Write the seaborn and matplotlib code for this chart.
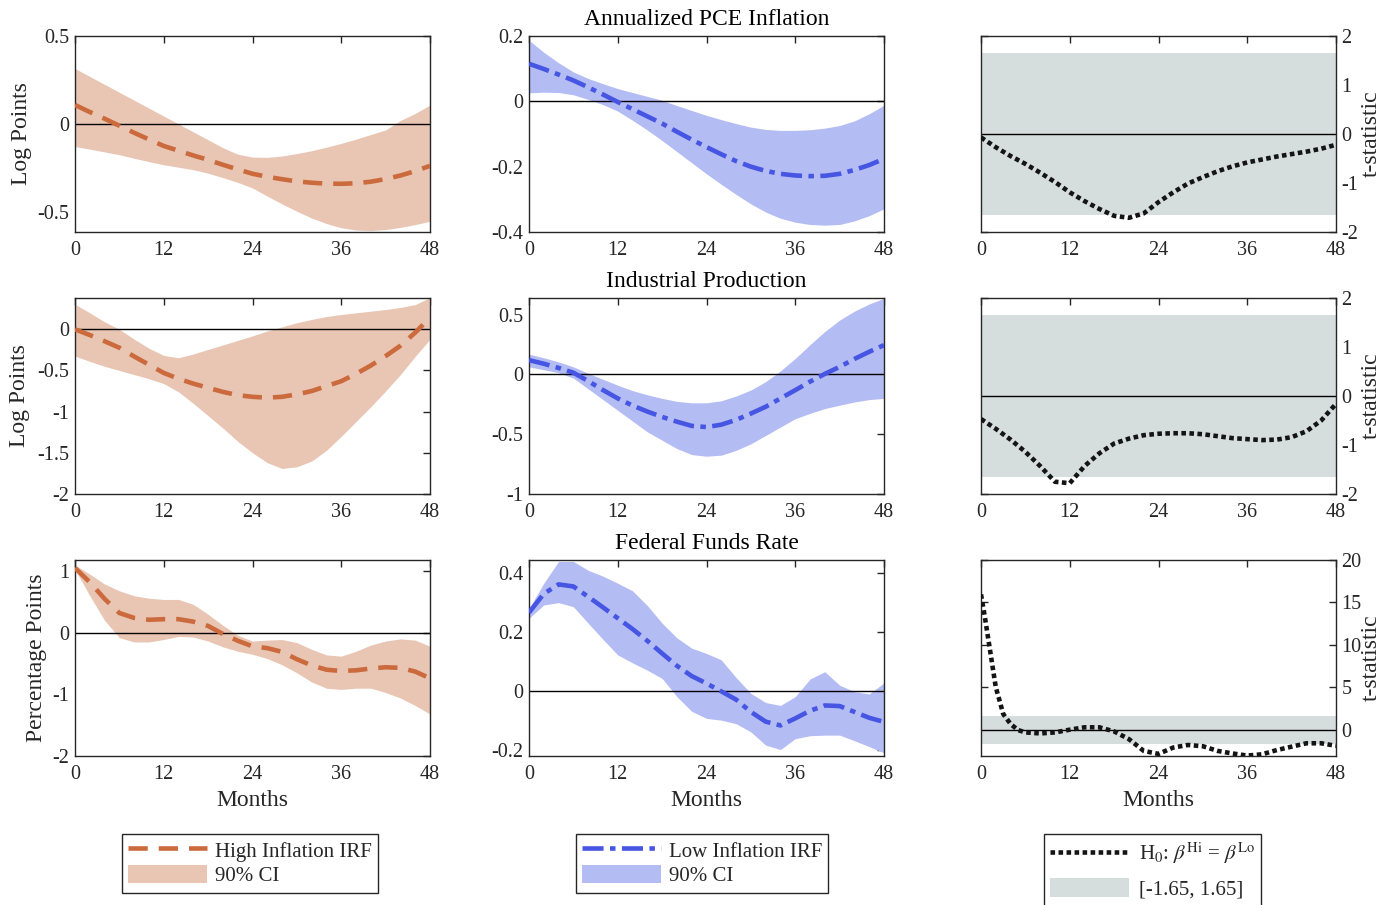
import matplotlib
matplotlib.use("Agg")
import matplotlib.pyplot as plt
import seaborn as sns
from matplotlib.lines import Line2D
from matplotlib.patches import Patch

# ---------------- data ----------------
months = list(range(0, 49, 2))
months_ffr_t = [0, 0.5, 1, 1.5, 2, 2.5, 3, 4, 5, 6] + list(range(8, 49, 2))

# Annualized PCE inflation
pce_hi_mean = [0.108, 0.068, 0.03, -0.01, -0.05, -0.088, -0.125, -0.152, -0.179, -0.204, -0.232, -0.258, -0.283,
               -0.300, -0.314, -0.326, -0.334, -0.339, -0.34, -0.337, -0.328, -0.313, -0.293, -0.268, -0.238]
pce_hi_upper = [0.315, 0.27, 0.225, 0.18, 0.135, 0.09, 0.045, 0.0, -0.045, -0.09, -0.135, -0.172, -0.188,
                -0.19, -0.182, -0.168, -0.152, -0.132, -0.11, -0.086, -0.06, -0.034, 0.02, 0.06, 0.108]
pce_hi_lower = [-0.128, -0.143, -0.159, -0.175, -0.195, -0.214, -0.232, -0.246, -0.26, -0.28, -0.305, -0.332, -0.364,
                -0.41, -0.455, -0.496, -0.535, -0.566, -0.59, -0.603, -0.606, -0.6, -0.588, -0.572, -0.553]
pce_lo_mean = [0.115, 0.099, 0.082, 0.064, 0.043, 0.021, -0.002, -0.024, -0.046, -0.068, -0.093, -0.117, -0.14,
               -0.162, -0.183, -0.2, -0.213, -0.222, -0.227, -0.229, -0.228, -0.222, -0.21, -0.195, -0.176]
pce_lo_upper = [0.187, 0.15, 0.118, 0.09, 0.07, 0.054, 0.039, 0.027, 0.015, 0.003, -0.013, -0.028, -0.043,
                -0.056, -0.068, -0.079, -0.086, -0.089, -0.089, -0.087, -0.082, -0.074, -0.06, -0.038, -0.012]
pce_lo_lower = [0.026, 0.028, 0.027, 0.02, 0.006, -0.01, -0.03, -0.058, -0.088, -0.12, -0.154, -0.188, -0.222,
                -0.254, -0.285, -0.314, -0.339, -0.358, -0.37, -0.377, -0.379, -0.377, -0.366, -0.35, -0.329]
pce_tstat = [-0.07, -0.27, -0.45, -0.61, -0.79, -0.98, -1.19, -1.37, -1.53, -1.67, -1.71, -1.62, -1.39,
             -1.19, -1.01, -0.88, -0.76, -0.66, -0.58, -0.52, -0.46, -0.41, -0.36, -0.30, -0.22]

# Industrial production
ip_hi_mean = [0.0, -0.07, -0.145, -0.224, -0.33, -0.43, -0.53, -0.6, -0.66, -0.71, -0.76, -0.80, -0.82,
              -0.83, -0.82, -0.79, -0.75, -0.69, -0.63, -0.54, -0.44, -0.325, -0.2, -0.04, 0.142]
ip_hi_upper = [0.305, 0.2, 0.09, 0.0, -0.12, -0.23, -0.317, -0.345, -0.3, -0.244, -0.19, -0.135, -0.08,
               -0.02, 0.03, 0.08, 0.12, 0.155, 0.18, 0.2, 0.22, 0.24, 0.265, 0.3, 0.386]
ip_hi_lower = [-0.325, -0.39, -0.45, -0.5, -0.55, -0.6, -0.66, -0.76, -0.9, -1.05, -1.2, -1.36, -1.5,
               -1.62, -1.69, -1.67, -1.6, -1.47, -1.3, -1.12, -0.94, -0.75, -0.55, -0.33, -0.12]
ip_lo_mean = [0.12, 0.09, 0.055, 0.015, -0.055, -0.13, -0.2, -0.26, -0.31, -0.355, -0.395, -0.43, -0.44,
              -0.42, -0.38, -0.327, -0.27, -0.2, -0.131, -0.06, 0.005, 0.064, 0.13, 0.19, 0.246]
ip_lo_upper = [0.17, 0.14, 0.105, 0.064, 0.01, -0.04, -0.09, -0.135, -0.17, -0.2, -0.225, -0.237, -0.237,
               -0.22, -0.18, -0.13, -0.06, 0.03, 0.134, 0.25, 0.36, 0.455, 0.53, 0.59, 0.637]
ip_lo_lower = [0.064, 0.04, 0.015, -0.03, -0.12, -0.21, -0.3, -0.39, -0.48, -0.55, -0.62, -0.67, -0.684,
               -0.675, -0.635, -0.58, -0.51, -0.44, -0.37, -0.325, -0.285, -0.257, -0.23, -0.21, -0.2]
ip_tstat = [-0.47, -0.67, -0.89, -1.14, -1.43, -1.75, -1.78, -1.43, -1.17, -0.97, -0.87, -0.80, -0.77,
            -0.76, -0.76, -0.78, -0.82, -0.86, -0.88, -0.9, -0.89, -0.84, -0.72, -0.5, -0.16]

# Federal funds rate
ffr_hi_mean = [1.05, 0.82, 0.55, 0.32, 0.24, 0.21, 0.22, 0.22, 0.18, 0.11, -0.02, -0.13, -0.22,
               -0.25, -0.31, -0.43, -0.53, -0.6, -0.62, -0.61, -0.58, -0.56, -0.57, -0.63, -0.74]
ffr_hi_upper = [1.1, 0.95, 0.79, 0.68, 0.6, 0.56, 0.54, 0.54, 0.46, 0.3, 0.12, -0.04, -0.135,
                -0.12, -0.11, -0.16, -0.27, -0.36, -0.38, -0.3, -0.2, -0.135, -0.1, -0.12, -0.22]
ffr_hi_lower = [1.03, 0.6, 0.2, -0.08, -0.15, -0.15, -0.11, -0.06, -0.07, -0.135, -0.23, -0.3, -0.35,
                -0.42, -0.52, -0.65, -0.8, -0.9, -0.92, -0.9, -0.9, -0.97, -1.06, -1.18, -1.32]
ffr_lo_mean = [0.266, 0.33, 0.362, 0.355, 0.32, 0.284, 0.247, 0.21, 0.17, 0.127, 0.085, 0.05, 0.025,
               -0.002, -0.03, -0.072, -0.105, -0.118, -0.094, -0.068, -0.05, -0.052, -0.072, -0.092, -0.106]
ffr_lo_upper = [0.28, 0.366, 0.44, 0.44, 0.41, 0.39, 0.366, 0.34, 0.29, 0.23, 0.18, 0.145, 0.127,
                0.105, 0.045, -0.009, -0.04, -0.05, -0.02, 0.04, 0.065, 0.019, -0.003, -0.011, 0.027]
ffr_lo_lower = [0.247, 0.292, 0.3, 0.286, 0.23, 0.175, 0.122, 0.095, 0.07, 0.042, -0.02, -0.07, -0.094,
                -0.1, -0.112, -0.14, -0.185, -0.2, -0.163, -0.153, -0.151, -0.151, -0.17, -0.19, -0.211]
ffr_tstat = [15.95, 13.4, 10.6, 7.8, 5.0, 3.45, 1.86, 0.67, -0.04, -0.32, -0.44, -0.32, 0.0, 0.28, 0.28,
             -0.2, -1.11, -2.5, -2.85, -2.1, -1.8, -1.95, -2.5, -2.8, -3.05, -2.9, -2.4, -2.0, -1.6, -1.6, -1.9]

ci_band = [-1.65, 1.65]

row_titles = ["Annualized PCE Inflation", "Industrial Production", "Federal Funds Rate"]
row_ylabels = ["Log Points", "Log Points", "Percentage Points"]
month_ticks = [0, 12, 24, 36, 48]
irf_yticks = [[-0.5, 0, 0.5], [-2, -1.5, -1, -0.5, 0], [-2, -1, 0, 1]]
low_yticks = [[-0.4, -0.2, 0, 0.2], [-1, -0.5, 0, 0.5], [-0.2, 0, 0.2, 0.4]]
t_yticks = [[-2, -1, 0, 1, 2], [-2, -1, 0, 1, 2], [0, 5, 10, 15, 20]]
irf_ylims = [(-0.614, 0.5), (-2, 0.38), (-2, 1.18)]
low_ylims = [(-0.4, 0.2), (-1, 0.64), (-0.222, 0.445)]
t_ylims = [(-2, 2), (-2, 2), (-3.1, 20)]

legend_hi = ["High Inflation IRF", "90% CI"]
legend_lo = ["Low Inflation IRF", "90% CI"]
legend_t = [r"H$_0$: $\beta^{\mathrm{Hi}}$ = $\beta^{\mathrm{Lo}}$", "[-1.65, 1.65]"]

# ---------------- style ----------------
sns.set_theme(style="white")
plt.rcParams["font.family"] = ["Liberation Serif", "DejaVu Serif"]
plt.rcParams["mathtext.fontset"] = "stix"
plt.rcParams["axes.unicode_minus"] = False

HI_LINE, HI_FILL = "#CB6A3D", "#E9C6B4"
LO_LINE, LO_FILL = "#4656E2", "#B4BCF4"
BAND = "#D5DEDC"
T_LINE = "#141414"
HI_LS = (0, (4.2, 2.4))
LO_LS = (0, (4.6, 1.4, 1.2, 1.4))
T_LS = (0, (1.0, 0.75))

TICK_FS, LABEL_FS, LEG_FS = 14.5, 17, 15

fig = plt.figure(figsize=(13.89, 9.05), dpi=100)
W, H = 1389, 905
col_left = [75, 529, 981]
row_bottom = [232, 494, 756]
ax_w, ax_h = 355, 196


def make_ax(col, row):
    ax = fig.add_axes([col_left[col] / W, 1 - row_bottom[row] / H, ax_w / W, ax_h / H])
    ax.set_facecolor("white")
    for s in ax.spines.values():
        s.set_color("#262626")
        s.set_linewidth(1.0)
    ax.tick_params(direction="in", length=5, width=1.0, color="#262626", top=True, right=True,
                   labelsize=TICK_FS, pad=4, labelcolor="#262626")
    ax.tick_params(axis="x", pad=6.5)
    ax.set_xlim(0, 48)
    ax.set_xticks(month_ticks)
    ax.set_xticklabels([str(m) for m in month_ticks])
    return ax


def fmt(v):
    return "%g" % v


irf_sets = [
    (pce_hi_mean, pce_hi_lower, pce_hi_upper, pce_lo_mean, pce_lo_lower, pce_lo_upper, pce_tstat, months),
    (ip_hi_mean, ip_hi_lower, ip_hi_upper, ip_lo_mean, ip_lo_lower, ip_lo_upper, ip_tstat, months),
    (ffr_hi_mean, ffr_hi_lower, ffr_hi_upper, ffr_lo_mean, ffr_lo_lower, ffr_lo_upper, ffr_tstat, months_ffr_t),
]

for r, (hm, hl, hu, lm, ll, lu, ts, tx) in enumerate(irf_sets):
    # High inflation
    ax = make_ax(0, r)
    ax.fill_between(months, hl, hu, color=HI_FILL, lw=0, zorder=1)
    ax.axhline(0, color="black", lw=1.0, zorder=2)
    sns.lineplot(x=months, y=hm, ax=ax, color=HI_LINE, lw=3.3, linestyle=HI_LS, errorbar=None, zorder=3)
    ax.set_ylim(*irf_ylims[r])
    ax.set_yticks(irf_yticks[r])
    ax.set_yticklabels([fmt(v) for v in irf_yticks[r]])
    ax.set_ylabel(row_ylabels[r], fontsize=LABEL_FS, color="#262626")
    ax.yaxis.set_label_coords([-0.121, -0.127, -0.079][r], 0.5)
    if r == 2:
        ax.set_xlabel("Months", fontsize=LABEL_FS, color="#262626", labelpad=4.5)

    # Low inflation
    ax = make_ax(1, r)
    ax.fill_between(months, ll, lu, color=LO_FILL, lw=0, zorder=1)
    ax.axhline(0, color="black", lw=1.0, zorder=2)
    sns.lineplot(x=months, y=lm, ax=ax, color=LO_LINE, lw=3.3, linestyle=LO_LS, errorbar=None, zorder=3)
    ax.set_ylim(*low_ylims[r])
    ax.set_yticks(low_yticks[r])
    ax.set_yticklabels([fmt(v) for v in low_yticks[r]])
    ax.set_title(row_titles[r], fontsize=LABEL_FS, pad=8, color="black")
    if r == 2:
        ax.set_xlabel("Months", fontsize=LABEL_FS, color="#262626", labelpad=4.5)

    # t-statistic
    ax = make_ax(2, r)
    ax.axhspan(ci_band[0], ci_band[1], color=BAND, lw=0, zorder=1)
    ax.axhline(0, color="black", lw=1.0, zorder=2)
    sns.lineplot(x=tx, y=ts, ax=ax, color=T_LINE, lw=3.3, linestyle=T_LS, errorbar=None, zorder=3)
    ax.set_ylim(*t_ylims[r])
    ax.set_yticks(t_yticks[r])
    ax.set_yticklabels([fmt(v) for v in t_yticks[r]])
    ax.yaxis.tick_right()
    ax.tick_params(left=True, right=True, labelleft=False, labelright=True)
    ax.yaxis.set_label_position("right")
    ax.set_ylabel("t-statistic", fontsize=LABEL_FS, color="#262626")
    ax.yaxis.set_label_coords(1.07, 0.5)
    if r == 2:
        ax.set_xlabel("Months", fontsize=LABEL_FS, color="#262626", labelpad=4.5)


def add_legend(x_px, handles, labels, spacing, hpad):
    leg = fig.legend(handles, labels, loc="upper left", bbox_to_anchor=(x_px / W, 1 - 834 / H),
                     bbox_transform=fig.transFigure, fontsize=LEG_FS, frameon=True, fancybox=False,
                     edgecolor="#262626", framealpha=1, borderaxespad=0, handlelength=3.8, handleheight=1.0,
                     handletextpad=hpad, labelspacing=spacing, borderpad=0.3)
    leg.get_frame().set_linewidth(1.0)
    return leg


add_legend(122, [Line2D([], [], color=HI_LINE, lw=3.3, linestyle=HI_LS), Patch(facecolor=HI_FILL, lw=0)],
           legend_hi, 0.15, 0.35)
add_legend(576, [Line2D([], [], color=LO_LINE, lw=3.3, linestyle=LO_LS), Patch(facecolor=LO_FILL, lw=0)],
           legend_lo, 0.15, 0.35)
add_legend(1044, [Line2D([], [], color=T_LINE, lw=3.3, linestyle=T_LS), Patch(facecolor=BAND, lw=0)],
           legend_t, 0.6, 0.45)

fig.savefig("out.png", dpi=100)
